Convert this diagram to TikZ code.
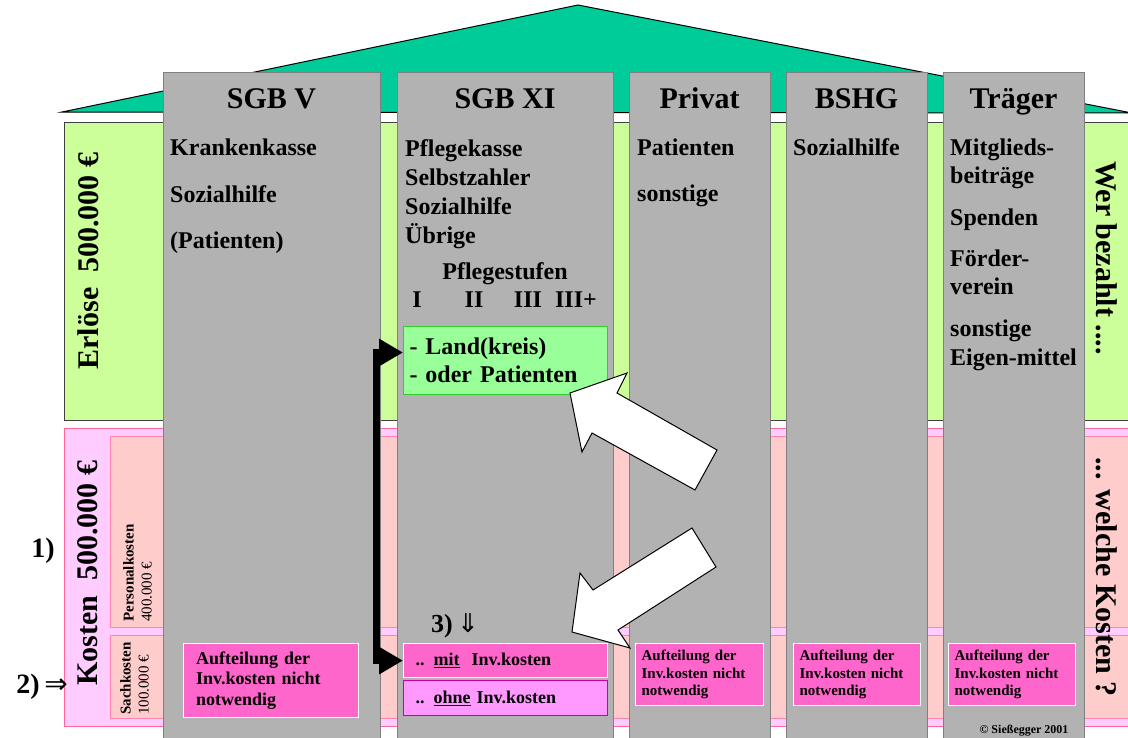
\documentclass[tikz,border=0pt]{standalone}
\usepackage{fontspec}
\setmainfont{Liberation Serif}
\newfontfamily\djv{DejaVu Sans}
\usetikzlibrary{arrows.meta}
\definecolor{roofc}{HTML}{00CC99}
\definecolor{erlc}{HTML}{CCFF99}
\definecolor{koutc}{HTML}{FFCCFF}
\definecolor{kinc}{HTML}{FFCCCC}
\definecolor{kbordc}{HTML}{FF6699}
\definecolor{colgc}{HTML}{B2B2B2}
\definecolor{colbc}{HTML}{808080}
\definecolor{lgreenc}{HTML}{99FF99}
\definecolor{lgreenbc}{HTML}{33CC33}
\definecolor{magc}{HTML}{FF66CC}
\definecolor{lmagc}{HTML}{FF99FF}
\definecolor{magbc}{HTML}{CC0099}
\newcommand{\fsz}[2]{\fontsize{#1}{#2}\selectfont}
\tikzset{
  colbox/.style={draw=colbc, fill=colgc, line width=1pt, anchor=north west, inner sep=0, minimum height=670},
  hdr/.style={font=\bfseries\fsz{30}{30}, anchor=base, inner sep=0},
  ctxt/.style={font=\bfseries\fsz{24}{29}, anchor=base west, inner sep=0},
  magbox/.style={draw=white, fill=magc, line width=1.2pt, anchor=north west, align=left},
  bigtxt/.style={font=\bfseries\fsz{30}{30}, inner sep=0},
  blockarrow/.style={draw=black, fill=white, line width=1pt, line join=miter},
  blkarrow/.style={line width=7pt, {Triangle[length=24pt,width=26pt]}-{Triangle[length=24pt,width=26pt]}}
}
\begin{document}
\begin{tikzpicture}[x=1pt,y=-1pt]
\useasboundingbox (0,0) rectangle (1128,737);
% roof
\draw[fill=roofc, draw=black, line width=1pt] (62,112) -- (578,5) -- (1132,113) -- cycle;
% Erloese band
\draw[fill=erlc, draw=black!75, line width=1pt] (64,122) rectangle (1140,420);
% Kosten bands
\draw[fill=koutc, draw=kbordc, line width=1pt] (64,428) rectangle (1140,726);
\draw[fill=kinc, draw=kbordc!80, line width=1pt] (110,436) rectangle (1140,627);
\draw[fill=kinc, draw=kbordc!80, line width=1pt] (110,635) rectangle (1140,718);
% left / right labels
\node[bigtxt, rotate=90] (erl) at (88,261) {Erlöse\hspace{0.5em}500.000 €};
\node[bigtxt, rotate=90] (kos) at (88,573) {Kosten\hspace{0.5em}500.000 €};
\node[bigtxt, rotate=-90] (wer) at (1107,258) {Wer bezahlt ....};
\node[bigtxt, rotate=-90] (wel) at (1107,577) {... welche Kosten ?};
\node[rotate=90, anchor=north west, align=left, inner sep=0, font=\fsz{15}{18}] (pers) at (123,622) {\textbf{Personalkosten}\\400.000 €};
\node[rotate=90, anchor=north west, align=left, inner sep=0, font=\fsz{15}{18}] (sach) at (120,715) {\textbf{Sachkosten}\\100.000 €};
\node[font=\bfseries\fsz{28}{28}, inner sep=0] (one) at (43,551) {1)};
\node[font=\bfseries\fsz{28}{28}, inner sep=0] (two) at (42,687) {2)\,{\djv\mdseries ⇒}};
% columns
\node[colbox, minimum width=217] (c1) at (163,72) {};
\node[colbox, minimum width=216] (c2) at (397,72) {};
\node[colbox, minimum width=141] (c3) at (629,72) {};
\node[colbox, minimum width=141] (c4) at (786,72) {};
\node[colbox, minimum width=141] (c5) at (943,72) {};
% headers
\node[hdr] (h1) at (271.5,108) {SGB V};
\node[hdr] (h2) at (505,108) {SGB XI};
\node[hdr] (h3) at (699.5,108) {Privat};
\node[hdr] (h4) at (856.5,108) {BSHG};
\node[hdr] (h5) at (1013.5,108) {Träger};
% column 1
\node[ctxt] (t11) at (170,155) {Krankenkasse};
\node[ctxt] (t12) at (170,202) {Sozialhilfe};
\node[ctxt] (t13) at (170,248) {(Patienten)};
% column 2
\node[ctxt] (t21) at (405,156) {Pflegekasse};
\node[ctxt] (t22) at (405,185) {Selbstzahler};
\node[ctxt] (t23) at (405,214) {Sozialhilfe};
\node[ctxt] (t24) at (405,243) {Übrige};
\node[ctxt, anchor=base] (pst) at (505,279) {Pflegestufen};
\node[ctxt, anchor=base] (s1) at (417,307) {I};
\node[ctxt, anchor=base] (s2) at (474,307) {II};
\node[ctxt, anchor=base] (s3) at (528,307) {III};
\node[ctxt, anchor=base] (s4) at (576,307) {III+};
\node[draw=lgreenbc, fill=lgreenc, line width=1pt, anchor=north west, minimum width=204, minimum height=68, text width=192, inner xsep=6, align=left, font=\bfseries\fsz{24}{28}] (gbox) at (403,326) {- Land(kreis)\\- oder Patienten};
% column 3
\node[ctxt] (t31) at (637,155) {Patienten};
\node[ctxt] (t32) at (637,201) {sonstige};
% column 4
\node[ctxt] (t41) at (793,155) {Sozialhilfe};
% column 5
\node[ctxt] (t51) at (950,155) {Mitglieds-};
\node[ctxt] (t52) at (950,183) {beiträge};
\node[ctxt] (t53) at (950,225) {Spenden};
\node[ctxt] (t54) at (950,266) {Förder-};
\node[ctxt] (t55) at (950,294) {verein};
\node[ctxt] (t56) at (950,336) {sonstige};
\node[ctxt] (t57) at (950,365) {Eigen-mittel};
% bottom boxes
\node[magbox, minimum width=175, minimum height=74, text width=150, inner xsep=12.5, font=\bfseries\fsz{18}{20.5}] (b1) at (183,643) {Aufteilung der\\Inv.kosten nicht\\notwendig};
\node[magbox, minimum width=204, minimum height=34, text width=180, inner xsep=12, font=\bfseries\fsz{18}{20}] (mit) at (403,643) {.. \underline{mit}\ \ Inv.kosten};
\node[draw=magbc, fill=lmagc, line width=1.2pt, anchor=north west, align=left, minimum width=204, minimum height=35, text width=180, inner xsep=12, font=\bfseries\fsz{18}{20}] (ohne) at (403,680) {.. \underline{ohne} Inv.kosten};
\node[magbox, minimum width=128, minimum height=62, text width=116, inner xsep=6, font=\bfseries\fsz{15}{17.5}] (b3) at (635,643) {Aufteilung der\\Inv.kosten nicht\\notwendig};
\node[magbox, minimum width=127, minimum height=62, text width=115, inner xsep=6, font=\bfseries\fsz{15}{17.5}] (b4) at (793,643) {Aufteilung der\\Inv.kosten nicht\\notwendig};
\node[magbox, minimum width=127, minimum height=62, text width=115, inner xsep=6, font=\bfseries\fsz{15}{17.5}] (b5) at (948,643) {Aufteilung der\\Inv.kosten nicht\\notwendig};
\node[font=\bfseries\fsz{26}{26}, inner sep=0] (three) at (455,626) {3)\,{\djv\mdseries ⇓}};
\node[font=\bfseries\fsz{12}{12}, inner sep=0] (copy) at (1024,731) {© Sießegger 2001};
% black connector
\draw[blkarrow] ([yshift=8pt]gbox.west) -- ++(-26.5,0) |- (mit.west);
% white block arrows
\draw[blockarrow] (570,393) -- (627,373) -- (617,393) -- (717,450) -- (695,490) -- (592,433) -- (582,452) -- cycle;
\draw[blockarrow] (572,632) -- (580,573) -- (593,590) -- (692,528) -- (716,567) -- (618,630) -- (630,648) -- cycle;
\end{tikzpicture}
\end{document}
